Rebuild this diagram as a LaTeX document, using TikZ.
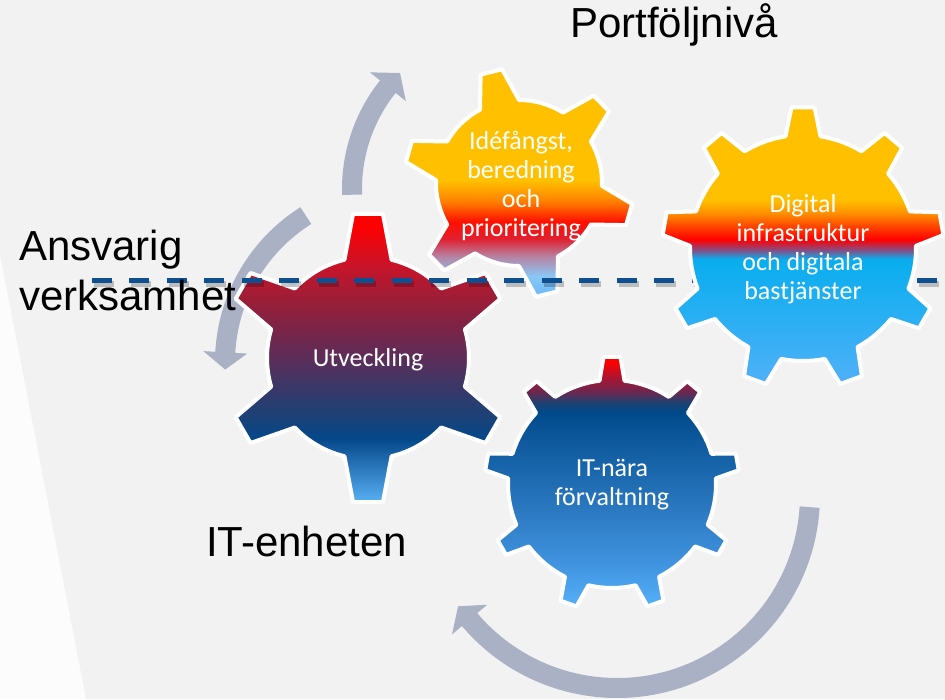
\documentclass[tikz,border=0pt]{standalone}
\usepackage{fontspec}
\setmainfont{Liberation Sans}
\newfontfamily\calibri{Carlito}
\usetikzlibrary{calc}

\definecolor{bggrey}{HTML}{F2F2F2}
\definecolor{wedgewhite}{HTML}{FCFCFC}
\definecolor{arrowgrey}{RGB}{171,177,197}
\definecolor{lineblue}{RGB}{14,80,143}
% Utveckling
\definecolor{utvA}{HTML}{5AB0F5}
\definecolor{utvB}{HTML}{04488A}
\definecolor{utvC}{HTML}{1F4074}
\definecolor{utvD}{HTML}{3A3868}
\definecolor{utvE}{HTML}{5A2E5A}
\definecolor{utvF}{HTML}{7A2448}
\definecolor{utvG}{HTML}{9A1E38}
\definecolor{utvH}{HTML}{C8142A}
\definecolor{utvI}{HTML}{FF0000}
% Idefangst
\definecolor{ideA}{HTML}{6AB8F8}
\definecolor{ideB}{HTML}{88C8F5}
\definecolor{ideC}{HTML}{B8809F}
\definecolor{ideD}{HTML}{E02030}
\definecolor{ideE}{HTML}{FF1000}
\definecolor{ideF}{HTML}{FF8000}
\definecolor{ideG}{HTML}{FFC000}
% Digital infrastruktur
\definecolor{digA}{HTML}{50B0F8}
\definecolor{digB}{HTML}{08AEEF}
\definecolor{digC}{HTML}{8A4A80}
\definecolor{digD}{HTML}{FF0000}
\definecolor{digE}{HTML}{FF4000}
\definecolor{digF}{HTML}{FF9000}
\definecolor{digG}{HTML}{FFC000}
% IT-nara forvaltning
\definecolor{itnA}{HTML}{55B0F8}
\definecolor{itnB}{HTML}{3E90DC}
\definecolor{itnC}{HTML}{2A78C0}
\definecolor{itnD}{HTML}{0F5A9E}
\definecolor{itnE}{HTML}{004A8A}
\definecolor{itnF}{HTML}{1F4070}
\definecolor{itnG}{HTML}{6A2850}
\definecolor{itnH}{HTML}{A01838}
\definecolor{itnI}{HTML}{FF0000}

\pgfdeclareverticalshading{utvshade}{100bp}{color(0bp)=(utvA); color(25bp)=(utvA);
  color(36bp)=(utvB); color(40.5bp)=(utvC); color(45bp)=(utvD); color(49.7bp)=(utvE);
  color(55bp)=(utvF); color(60bp)=(utvG); color(66bp)=(utvH); color(73bp)=(utvI); color(100bp)=(utvI)}
\pgfdeclareverticalshading{ideshade}{100bp}{color(0bp)=(ideA); color(25bp)=(ideA);
  color(29.5bp)=(ideB); color(34bp)=(ideC); color(37.7bp)=(ideD); color(41.5bp)=(ideE);
  color(46bp)=(ideF); color(50.6bp)=(ideG); color(100bp)=(ideG)}
\pgfdeclareverticalshading{digshade}{100bp}{color(0bp)=(digA); color(25bp)=(digA);
  color(47.6bp)=(digB); color(49.3bp)=(digC); color(51.1bp)=(digD); color(53.4bp)=(digE);
  color(55.9bp)=(digF); color(58.3bp)=(digG); color(100bp)=(digG)}
\pgfdeclareverticalshading{itnshade}{100bp}{color(0bp)=(itnA); color(25bp)=(itnA);
  color(34.7bp)=(itnB); color(44.6bp)=(itnC); color(57.9bp)=(itnD); color(63.9bp)=(itnE);
  color(65.9bp)=(itnF); color(67.9bp)=(itnG); color(70.4bp)=(itnH); color(74bp)=(itnI); color(100bp)=(itnI)}

% cog outline: teeth, tip radius, body radius, tip half angle, base half angle, rotation
\newcommand{\cogpath}[6]{%
  ({#6-#5}:#3) \foreach \k in {1,...,#1} {
    -- ({#6+(\k-1)*360/#1-#5}:#3) -- ({#6+(\k-1)*360/#1-#4}:#2)
    -- ({#6+(\k-1)*360/#1+#4}:#2) -- ({#6+(\k-1)*360/#1+#5}:#3)
    arc[start angle={#6+(\k-1)*360/#1+#5}, end angle={#6+\k*360/#1-#5}, radius=#3]
  } -- cycle}

\begin{document}
\begin{tikzpicture}
  [x=0.75pt, y=-0.75pt,
   cog/.style={draw=white, line width=3pt, line join=round},
   cog label/.style={text=white, align=center, inner sep=0pt,
     font=\calibri\fontsize{19.5}{21.75}\selectfont},
   caption/.style={text=black, inner sep=0pt, anchor=base west,
     font=\fontsize{31.5}{37.8}\selectfont},
   cycle arrow/.style={draw=arrowgrey, line width=15pt},
   cycle head/.style={fill=arrowgrey},
   divider/.style={draw=lineblue, line width=3.75pt, dash pattern=on 15pt off 13.125pt},
   divider shadow/.style={draw=black, opacity=0.22, line width=4.5pt,
     dash pattern=on 15pt off 13.125pt}]
  \useasboundingbox (0,0) rectangle (945,699);
  \fill[bggrey] (0,0) rectangle (945,699);
  \fill[wedgewhite] (0,255) -- (86,699) -- (0,699) -- cycle;

  % circular arrows
  \coordinate (hubA) at (516,189);
  \coordinate (hubB) at (398,362);
  \coordinate (hubC) at (617,495);
  \draw[cycle arrow] ([shift={(hubA)}]178:164) arc[start angle=178, end angle=219.5, radius=164];
  \fill[cycle head] ([shift={(hubA)}]218.6:187) -- ([shift={(hubA)}]225:164)
    -- ([shift={(hubA)}]218.6:141) -- cycle;
  \draw[cycle arrow] ([shift={(hubB)}]237.8:173) arc[start angle=237.8, end angle=182.3, radius=173];
  \fill[cycle head] ([shift={(hubB)}]183.2:195) -- ([shift={(hubB)}]177.5:173)
    -- ([shift={(hubB)}]183.2:151) -- cycle;
  \draw[cycle arrow] ([shift={(hubC)}]3.6:193) arc[start angle=3.6, end angle=140.7, radius=193];
  \fill[cycle head] ([shift={(hubC)}]139.8:216) -- ([shift={(hubC)}]145:194)
    -- ([shift={(hubC)}]139.8:170) -- cycle;

  % cogs below the divider
  \coordinate (utvhub) at (368,358);
  \coordinate (idehub) at (519,183);
  \shadedraw[cog, shading=utvshade, shift={(utvhub)}] \cogpath{6}{145}{101}{5.9}{13.5}{30};
  \shadedraw[cog, shading=ideshade, shift={(idehub)}] \cogpath{6}{115}{83}{5.5}{14}{16};

  % divider
  \coordinate (dashstart) at (91.5,280);
  \coordinate (dashend) at (945,280);
  \draw[divider shadow] ([shift={(2,4)}]dashstart) -- ([shift={(2,4)}]dashend);
  \draw[divider] (dashstart) -- (dashend);

  % cogs above the divider
  \coordinate (dighub) at (803,248);
  \coordinate (itnhub) at (612,484);
  \shadedraw[cog, shading=digshade, shift={(dighub)}] \cogpath{9}{141}{113}{4.7}{8.9}{30};
  \shadedraw[cog, shading=itnshade, shift={(itnhub)}] \cogpath{9}{127.5}{104}{3.8}{6.9}{30};

  % labels
  \node[cog label] (utveckling) at (368,360) {Utveckling};
  \node[cog label] (idefangst) at (521,186) {Idéfångst,\\beredning\\och\\prioritering};
  \node[cog label] (digital) at (803,249) {Digital\\infrastruktur\\och digitala\\bastjänster};
  \node[cog label] (itnara) at (612,485) {IT-nära\\förvaltning};

  \node[caption] (portfolj) at (570,38) {Portföljnivå};
  \node[caption] (ansvarig) at (19,260) {Ansvarig};
  \node[caption] (verksamhet) at (19,310) {verksamhet};
  \node[caption] (itenheten) at (206,556) {IT-enheten};
\end{tikzpicture}
\end{document}
